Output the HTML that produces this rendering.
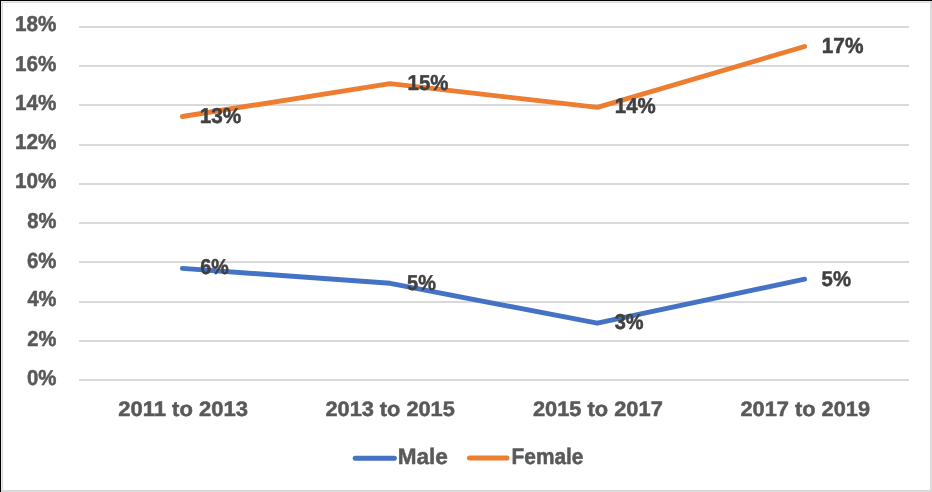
<!DOCTYPE html>
<html><head><meta charset="utf-8"><style>
html,body{margin:0;padding:0;background:#fff;width:932px;height:492px;overflow:hidden}
svg{display:block;will-change:transform}
text{font-family:"Liberation Sans",sans-serif;font-weight:bold;text-rendering:geometricPrecision}
</style></head><body>
<svg width="932" height="492" viewBox="0 0 932 492">
<rect x="0" y="0" width="932" height="492" fill="#fff"/>
<rect x="79" y="26" width="830" height="2" fill="#d9d9d9"/>
<rect x="79" y="65" width="830" height="2" fill="#d9d9d9"/>
<rect x="79" y="104" width="830" height="2" fill="#d9d9d9"/>
<rect x="79" y="144" width="830" height="2" fill="#d9d9d9"/>
<rect x="79" y="183" width="830" height="2" fill="#d9d9d9"/>
<rect x="79" y="222" width="830" height="2" fill="#d9d9d9"/>
<rect x="79" y="261" width="830" height="2" fill="#d9d9d9"/>
<rect x="79" y="301" width="830" height="2" fill="#d9d9d9"/>
<rect x="79" y="340" width="830" height="2" fill="#d9d9d9"/>
<rect x="79" y="379" width="830" height="2" fill="#d9d9d9"/>
<rect x="930" y="0" width="2" height="492" fill="#d9d9d9"/>
<rect x="0" y="490" width="932" height="2" fill="#d9d9d9"/>
<rect x="1" y="1" width="929" height="1" fill="#ececec"/>
<rect x="1" y="1" width="1" height="489" fill="#ececec"/>
<rect x="2" y="2" width="928" height="1" fill="#dadada"/>
<rect x="2" y="2" width="1" height="488" fill="#dadada"/>
<rect x="0" y="0" width="932" height="1" fill="#000"/>
<rect x="0" y="0" width="1" height="492" fill="#000"/>
<polyline points="182.4,268.4 390.2,283.3 597.3,323.2 804.6,279.2" fill="none" stroke="#4472c4" stroke-width="4.9" stroke-linecap="round" stroke-linejoin="round"/>
<polyline points="182.4,116.5 390.0,83.6 597.4,107.4 804.6,46.5" fill="none" stroke="#ed7d31" stroke-width="4.9" stroke-linecap="round" stroke-linejoin="round"/>
<line x1="355.2" y1="458.3" x2="394.4" y2="458.3" stroke="#4472c4" stroke-width="5" stroke-linecap="round"/>
<line x1="469.5" y1="458.1" x2="507" y2="458.1" stroke="#ed7d31" stroke-width="5" stroke-linecap="round"/>
<text x="15.66" y="30.72" transform="scale(0.9635,1)" font-size="21.49" fill="#595959" stroke="#595959" stroke-width="0.5">18%</text>
<text x="15.75" y="70.67" transform="scale(0.9577,1)" font-size="21.63" fill="#595959" stroke="#595959" stroke-width="0.5">16%</text>
<text x="15.81" y="109.55" transform="scale(0.9539,1)" font-size="21.71" fill="#595959" stroke="#595959" stroke-width="0.5">14%</text>
<text x="15.71" y="148.54" transform="scale(0.9591,1)" font-size="21.59" fill="#595959" stroke="#595959" stroke-width="0.5">12%</text>
<text x="15.57" y="187.54" transform="scale(0.9690,1)" font-size="21.38" fill="#595959" stroke="#595959" stroke-width="0.5">10%</text>
<text x="29.28" y="227.73" transform="scale(0.9293,1)" font-size="21.68" fill="#595959" stroke="#595959" stroke-width="0.5">8%</text>
<text x="28.94" y="267.58" transform="scale(0.9333,1)" font-size="21.85" fill="#595959" stroke="#595959" stroke-width="0.5">6%</text>
<text x="29.64" y="305.54" transform="scale(0.9263,1)" font-size="21.69" fill="#595959" stroke="#595959" stroke-width="0.5">4%</text>
<text x="29.25" y="345.52" transform="scale(0.9314,1)" font-size="21.62" fill="#595959" stroke="#595959" stroke-width="0.5">2%</text>
<text x="28.44" y="384.69" transform="scale(0.9479,1)" font-size="21.56" fill="#595959" stroke="#595959" stroke-width="0.5">0%</text>
<text x="112.21" y="415.73" transform="scale(1.0533,1)" font-size="20.92" fill="#595959" stroke="#595959" stroke-width="0.5">2011 to 2013</text>
<text x="311.95" y="415.70" transform="scale(1.0433,1)" font-size="20.85" fill="#595959" stroke="#595959" stroke-width="0.5">2013 to 2015</text>
<text x="510.32" y="415.71" transform="scale(1.0443,1)" font-size="20.91" fill="#595959" stroke="#595959" stroke-width="0.5">2015 to 2017</text>
<text x="709.24" y="415.71" transform="scale(1.0440,1)" font-size="20.89" fill="#595959" stroke="#595959" stroke-width="0.5">2017 to 2019</text>
<text x="206.79" y="122.63" transform="scale(0.9658,1)" font-size="21.53" fill="#404040" stroke="#404040" stroke-width="0.5">13%</text>
<text x="431.17" y="89.63" transform="scale(0.9453,1)" font-size="21.60" fill="#404040" stroke="#404040" stroke-width="0.5">15%</text>
<text x="645.66" y="112.74" transform="scale(0.9522,1)" font-size="21.50" fill="#404040" stroke="#404040" stroke-width="0.5">14%</text>
<text x="861.08" y="52.57" transform="scale(0.9543,1)" font-size="21.83" fill="#404040" stroke="#404040" stroke-width="0.5">17%</text>
<text x="220.25" y="273.57" transform="scale(0.9090,1)" font-size="21.63" fill="#404040" stroke="#404040" stroke-width="0.5">6%</text>
<text x="441.40" y="289.73" transform="scale(0.9222,1)" font-size="21.62" fill="#404040" stroke="#404040" stroke-width="0.5">5%</text>
<text x="661.25" y="328.69" transform="scale(0.9296,1)" font-size="21.46" fill="#404040" stroke="#404040" stroke-width="0.5">3%</text>
<text x="859.50" y="285.60" transform="scale(0.9559,1)" font-size="21.25" fill="#404040" stroke="#404040" stroke-width="0.5">5%</text>
<text x="393.31" y="463.63" transform="scale(1.0112,1)" font-size="22.30" fill="#595959" stroke="#595959" stroke-width="0.5">Male</text>
<text x="549.88" y="463.73" transform="scale(0.9303,1)" font-size="22.43" fill="#595959" stroke="#595959" stroke-width="0.5">Female</text>
</svg></body></html>
